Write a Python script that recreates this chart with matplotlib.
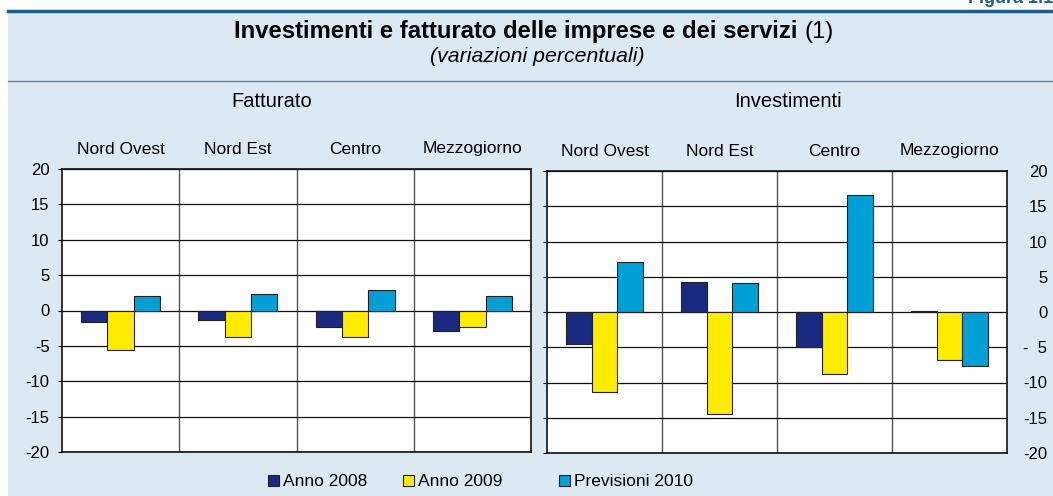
import matplotlib.pyplot as plt
import numpy as np
from matplotlib.lines import Line2D
from matplotlib.patches import Rectangle

plt.rcParams['font.family'] = ['Liberation Sans', 'DejaVu Sans']

regioni = ['Nord Ovest', 'Nord Est', 'Centro', 'Mezzogiorno']
serie = ['Anno 2008', 'Anno 2009', 'Previsioni 2010']
colori = ['#1a2a80', '#ffec00', '#00a0d6']

fatturato_2008 = [-1.6, -1.3, -2.4, -2.9]
fatturato_2009 = [-5.6, -3.8, -3.7, -2.3]
fatturato_2010 = [2.1, 2.3, 2.9, 2.1]

investimenti_2008 = [-4.6, 4.3, -4.9, 0.1]
investimenti_2009 = [-11.4, -14.5, -8.8, -6.8]
investimenti_2010 = [7.1, 4.1, 16.6, -7.7]

yticks = [20, 15, 10, 5, 0, -5, -10, -15, -20]
ylabels_sx = ['20', '15', '10', '5', '0', '-5', '-10', '-15', '-20']
ylabels_dx = ['20', '15', '10', '5', '0', '-  5', '-10', '-15', '-20']

W, H = 1053, 496


def fx(px):
    return px / W


def fy(py):
    return 1 - py / H


def pannello(fig, rect, valori, ylabels, destra):
    ax = fig.add_axes(rect)
    x = np.arange(len(regioni))
    w = 0.225
    for i, (v, c) in enumerate(zip(valori, colori)):
        ax.bar(x + (i - 1) * w, v, w, color=c, edgecolor='#222222', linewidth=0.8, zorder=3)
    ax.set_xlim(-0.5, len(regioni) - 0.5)
    ax.set_ylim(-20, 20)
    ax.set_yticks(yticks)
    ax.set_yticklabels(ylabels, fontsize=12)
    ax.set_xticks(x)
    ax.set_xticklabels(regioni, fontsize=12.5)
    ax.set_xticks(x[:-1] + 0.5, minor=True)
    ax.xaxis.tick_top()
    ax.tick_params(axis='x', which='both', length=0, pad=9)
    ax.yaxis.grid(True, color='#111111', linewidth=0.9)
    ax.xaxis.grid(True, which='minor', color='#555555', linewidth=1.0)
    ax.set_axisbelow(True)
    for s in ax.spines.values():
        s.set_color('#111111')
        s.set_linewidth(1.2)
    if destra:
        ax.tick_params(axis='y', left=True, right=False, labelleft=False, labelright=True,
                       direction='out', length=3, width=0.8, pad=26)
        for t in ax.get_yticklabels():
            t.set_horizontalalignment('right')
    else:
        ax.tick_params(axis='y', direction='out', length=3, width=0.8, pad=6)
    return ax


fig = plt.figure(figsize=(W / 100, H / 100), dpi=100)

# sfondo e filetti dell'intestazione
fig.patches.append(Rectangle((fx(8), 0), 1 - fx(8), fy(11), transform=fig.transFigure,
                             facecolor='#dde9f2', edgecolor='none', zorder=-10))
fig.lines.append(Line2D([fx(8), 1], [fy(11), fy(11)], transform=fig.transFigure,
                        color='#1d5e8a', linewidth=2.5))
fig.lines.append(Line2D([fx(8), 1], [fy(81), fy(81)], transform=fig.transFigure,
                        color='#5587b0', linewidth=1.0))
fig.text(fx(968), fy(3), 'Figura 1.1', color='#1d5e8a', fontsize=13, fontweight='bold',
         va='baseline', ha='left')

fig.text(fx(798), fy(38), 'Investimenti e fatturato delle imprese e dei servizi',
         fontsize=17.2, fontweight='bold', ha='right', va='baseline')
fig.text(fx(805), fy(38), '(1)', fontsize=17.2, ha='left', va='baseline')
fig.text(fx(537), fy(62), '(variazioni percentuali)', fontsize=15.3, style='italic',
         ha='center', va='baseline')

fig.text(fx(272), fy(107), 'Fatturato', fontsize=14.5, ha='center', va='baseline')
fig.text(fx(788), fy(107), 'Investimenti', fontsize=14.5, ha='center', va='baseline')

pannello(fig, [fx(62), fy(452), (531 - 62) / W, (452 - 169) / H],
         [fatturato_2008, fatturato_2009, fatturato_2010], ylabels_sx, False)
pannello(fig, [fx(547), fy(453), (1007 - 547) / W, (453 - 171) / H],
         [investimenti_2008, investimenti_2009, investimenti_2010], ylabels_dx, True)

# legenda
leg_x = [268, 403, 559]
for px, nome, c in zip(leg_x, serie, colori):
    fig.patches.append(Rectangle((fx(px), fy(486)), 11 / W, 11 / H, transform=fig.transFigure,
                                 facecolor=c, edgecolor='#222222', linewidth=0.8))
    fig.text(fx(px + 15), fy(486), nome, fontsize=12.5, ha='left', va='baseline')

fig.savefig('out.png', dpi=100)
